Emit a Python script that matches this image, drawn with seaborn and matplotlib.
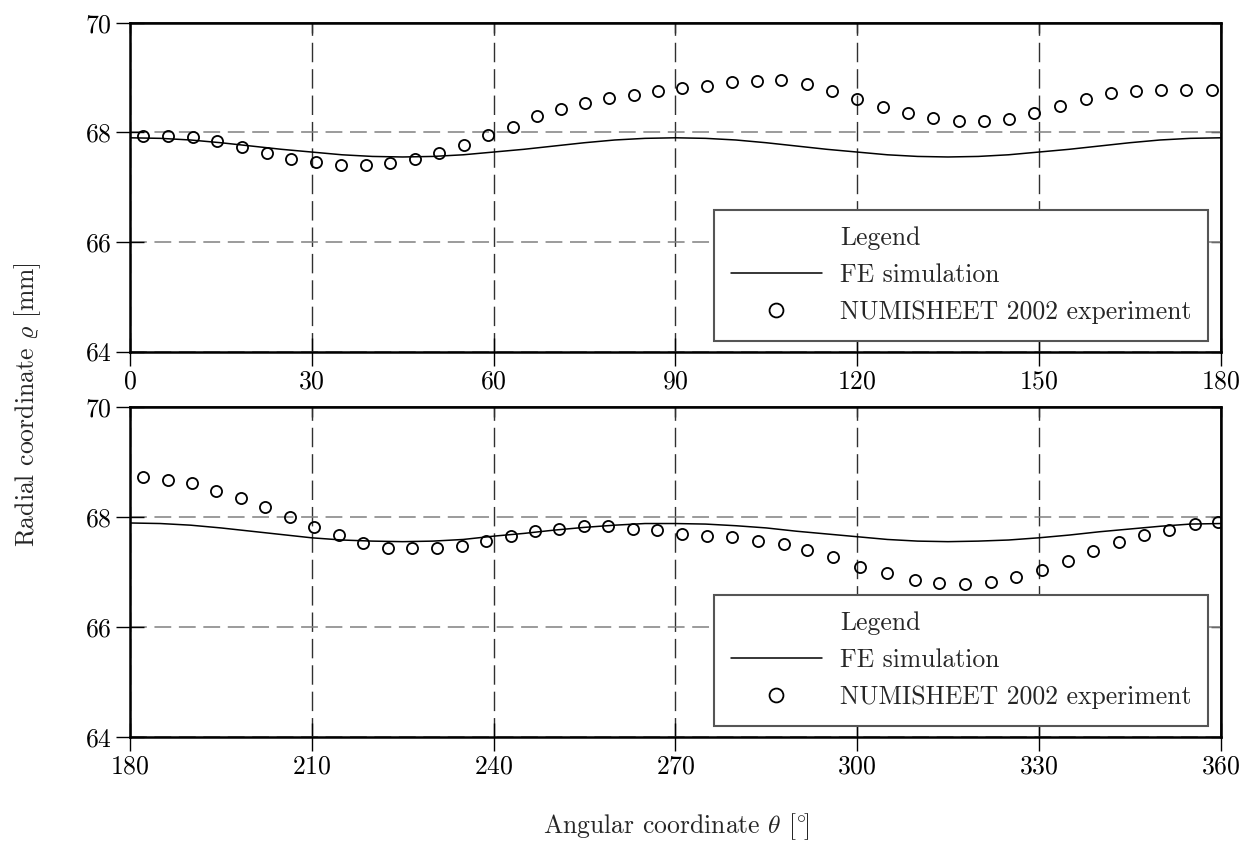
import matplotlib
matplotlib.use('Agg')
import matplotlib.pyplot as plt
import seaborn as sns
from matplotlib.lines import Line2D

# FE simulation (every 5 degrees)
theta_fe_top = [0, 5, 10, 15, 20, 25, 30, 35, 40, 45, 50, 55, 60, 65, 70, 75, 80, 85, 90,
                95, 100, 105, 110, 115, 120, 125, 130, 135, 140, 145, 150, 155, 160, 165, 170, 175, 180]
rho_fe_top = [67.90, 67.89, 67.86, 67.81, 67.75, 67.69, 67.64, 67.59, 67.56, 67.55, 67.56, 67.59,
              67.64, 67.69, 67.75, 67.81, 67.86, 67.89, 67.90, 67.89, 67.86, 67.81, 67.75, 67.69,
              67.64, 67.59, 67.56, 67.55, 67.56, 67.59, 67.64, 67.69, 67.75, 67.81, 67.86, 67.89, 67.90]
theta_fe_bottom = [180, 185, 190, 195, 200, 205, 210, 215, 220, 225, 230, 235, 240, 245, 250, 255, 260, 265, 270,
                   275, 280, 285, 290, 295, 300, 305, 310, 315, 320, 325, 330, 335, 340, 345, 350, 355, 360]
rho_fe_bottom = [67.89, 67.88, 67.85, 67.80, 67.74, 67.68, 67.62, 67.58, 67.56, 67.55, 67.56, 67.59,
                 67.65, 67.70, 67.76, 67.81, 67.85, 67.88, 67.88, 67.87, 67.84, 67.80, 67.74, 67.69,
                 67.64, 67.59, 67.56, 67.55, 67.56, 67.58, 67.62, 67.67, 67.73, 67.78, 67.83, 67.87, 67.88]

# NUMISHEET 2002 experiment
theta_exp_top = [2.1, 6.3, 10.4, 14.4, 18.5, 22.6, 26.6, 30.7, 34.8, 38.9, 42.9, 47.0, 51.0, 55.1, 59.1,
                 63.2, 67.2, 71.1, 75.1, 79.1, 83.2, 87.1, 91.1, 95.2, 99.3, 103.5, 107.4, 111.7, 115.8,
                 120.0, 124.3, 128.4, 132.5, 136.8, 140.9, 145.0, 149.2, 153.5, 157.8, 161.9, 166.0,
                 170.2, 174.3, 178.5]
rho_exp_top = [67.94, 67.94, 67.91, 67.84, 67.73, 67.62, 67.52, 67.45, 67.41, 67.41, 67.44, 67.51,
               67.63, 67.76, 67.95, 68.10, 68.30, 68.42, 68.53, 68.63, 68.69, 68.76, 68.80, 68.84,
               68.92, 68.94, 68.95, 68.89, 68.75, 68.61, 68.47, 68.35, 68.27, 68.20, 68.20, 68.24,
               68.35, 68.48, 68.61, 68.72, 68.75, 68.78, 68.78, 68.77]
theta_exp_bottom = [182.1, 186.3, 190.2, 194.2, 198.3, 202.3, 206.4, 210.4, 214.5, 218.5, 222.6, 226.5,
                    230.7, 234.8, 238.8, 242.9, 246.8, 250.8, 254.9, 258.9, 263.0, 267.0, 271.1, 275.2,
                    279.3, 283.6, 287.9, 291.7, 296.0, 300.5, 304.9, 309.6, 313.5, 317.8, 322.1, 326.2,
                    330.5, 334.8, 338.9, 343.2, 347.4, 351.5, 355.8, 359.6]
rho_exp_bottom = [68.73, 68.68, 68.61, 68.47, 68.35, 68.18, 68.00, 67.81, 67.68, 67.53, 67.43, 67.43,
                  67.43, 67.48, 67.56, 67.65, 67.74, 67.78, 67.83, 67.83, 67.78, 67.76, 67.69, 67.65,
                  67.63, 67.57, 67.50, 67.39, 67.27, 67.09, 66.98, 66.85, 66.80, 66.78, 66.82, 66.90,
                  67.04, 67.19, 67.38, 67.55, 67.67, 67.77, 67.87, 67.90]

xticks_top = [0, 30, 60, 90, 120, 150, 180]
xticks_bottom = [180, 210, 240, 270, 300, 330, 360]
yticks = [64, 66, 68, 70]
legend_labels = ['Legend', 'FE simulation', 'NUMISHEET 2002 experiment']

sns.set_theme(style='white')
plt.rcParams['font.family'] = ['cmr10', 'DejaVu Serif']
plt.rcParams['mathtext.fontset'] = 'cm'
plt.rcParams['axes.formatter.use_mathtext'] = True
FS = 18.5

fig = plt.figure(figsize=(12.45, 8.41), dpi=100)
ax1 = fig.add_axes([0.1044, 0.582, 0.876, 0.391])
ax2 = fig.add_axes([0.1044, 0.124, 0.876, 0.392])


def draw_panel(ax, th_fe, rho_fe, th_exp, rho_exp, xticks):
    sns.lineplot(x=th_fe, y=rho_fe, ax=ax, color='black', linewidth=1.1, estimator=None)
    sns.lineplot(x=th_exp, y=rho_exp, ax=ax, linestyle='', marker='o', markersize=8,
                 markerfacecolor='none', markeredgecolor='black', markeredgewidth=1.3, estimator=None)
    ax.set_xlim(xticks[0], xticks[-1])
    ax.set_ylim(64, 70)
    ax.set_xticks(xticks)
    ax.set_yticks(yticks)
    ax.set_axisbelow(True)
    ax.xaxis.grid(True, color='#303030', linewidth=1.0, linestyle=(0, (14, 5)))
    ax.yaxis.grid(True, color='#808080', linewidth=1.1, linestyle=(0, (11, 5)))
    ax.tick_params(bottom=True, left=True, direction='inout', length=20, width=1.0,
                   labelsize=FS, colors='black', pad=3)
    for s in ax.spines.values():
        s.set_linewidth(1.8)
        s.set_color('black')
    # small inward ticks on the top and right frame
    sx = ax.secondary_xaxis('top')
    sx.set_xticks(xticks)
    sx.tick_params(top=True, direction='in', length=7, width=1.0, labeltop=False)
    sy = ax.secondary_yaxis('right')
    sy.set_yticks(yticks)
    sy.tick_params(right=True, direction='in', length=7, width=1.0, labelright=False)
    ax.set_xlabel('')
    ax.set_ylabel('')

    handles = [Line2D([], [], linestyle='none'),
               Line2D([], [], color='black', linewidth=1.1),
               Line2D([], [], linestyle='none', marker='o', markersize=10, markerfacecolor='none',
                      markeredgecolor='black', markeredgewidth=1.3)]
    leg = ax.legend(handles, legend_labels, loc='lower right', bbox_to_anchor=(0.9886, 0.032),
                    fontsize=FS, frameon=True, fancybox=False, edgecolor='#555555', framealpha=1,
                    handlelength=3.55, handletextpad=0.71, borderpad=0.65, labelspacing=0.52,
                    borderaxespad=0)
    leg.get_frame().set_linewidth(1.5)


draw_panel(ax1, theta_fe_top, rho_fe_top, theta_exp_top, rho_exp_top, xticks_top)
draw_panel(ax2, theta_fe_bottom, rho_fe_bottom, theta_exp_bottom, rho_exp_bottom, xticks_bottom)

fig.text(0.0225, 0.519, r'Radial coordinate $\varrho$ [mm]', rotation=90, ha='center', va='center', fontsize=FS)
fig.text(0.543, 0.0166, r'Angular coordinate $\theta$ $[{}^{\circ}\!]$', ha='center', va='center', fontsize=FS)

fig.savefig('out.png', dpi=100)
